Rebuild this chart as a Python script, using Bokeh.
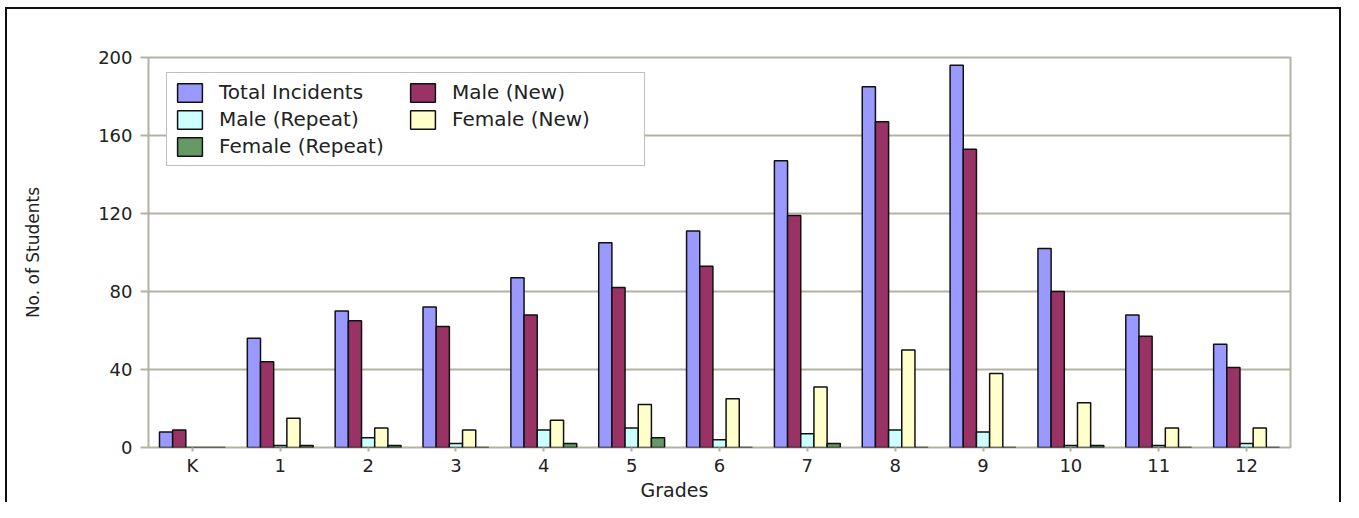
from bokeh.plotting import figure
from bokeh.models import (FactorRange, Range1d, FixedTicker, Legend, LegendItem,
                          ColumnDataSource, Title)
from bokeh.transform import dodge
from bokeh.embed import file_html
from bokeh.resources import INLINE

grades = ["K", "1", "2", "3", "4", "5", "6", "7", "8", "9", "10", "11", "12"]
total_incidents = [8, 56, 70, 72, 87, 105, 111, 147, 185, 196, 102, 68, 53]
male_new = [9, 44, 65, 62, 68, 82, 93, 119, 167, 153, 80, 57, 41]
male_repeat = [0, 1, 5, 2, 9, 10, 4, 7, 9, 8, 1, 1, 2]
female_new = [0, 15, 10, 9, 14, 22, 25, 31, 50, 38, 23, 10, 10]
female_repeat = [0, 1, 1, 0, 2, 5, 0, 2, 0, 0, 1, 0, 0]
y_ticks = [0, 40, 80, 120, 160, 200]

series_names = ["Total Incidents", "Male (New)", "Male (Repeat)", "Female (New)", "Female (Repeat)"]
series_cols = ["total", "male_new", "male_repeat", "female_new", "female_repeat"]
series_colors = ["#9999FF", "#993366", "#CCFFFF", "#FFFFCC", "#669966"]
offsets = [-0.3, -0.15, 0.0, 0.15, 0.3]

src = ColumnDataSource(dict(grade=grades, total=total_incidents, male_new=male_new,
                            male_repeat=male_repeat, female_new=female_new,
                            female_repeat=female_repeat))

TAN = "#b3b1a3"
TXT = "#222222"
FONT = "DejaVu Sans"

p = figure(x_range=FactorRange(*grades), y_range=Range1d(0, 200),
           width=1343, height=502, output_backend="svg", toolbar_location=None,
           min_border_left=148, min_border_right=53, min_border_top=57, min_border_bottom=55)

# outer frame lines of the chart (left, top, right) drawn behind a transparent canvas
p.border_fill_color = None
p.styles = {
    "background": ("linear-gradient(#111,#111) 5px 7px / 2px 600px no-repeat, "
                   "linear-gradient(#111,#111) 5px 7px / 1336px 2px no-repeat, "
                   "linear-gradient(#111,#111) 1339px 7px / 2px 600px no-repeat, "
                   "#ffffff")
}

renderers = []
for col, color, off in zip(series_cols, series_colors, offsets):
    r = p.vbar(x=dodge("grade", off, range=p.x_range), top=col, bottom=0, width=0.15,
               source=src, fill_color=color, line_color="#111111", line_width=1.5)
    renderers.append(r)

p.background_fill_color = "white"
p.outline_line_color = TAN
p.outline_line_width = 2
p.xgrid.grid_line_color = None
p.ygrid.grid_line_color = TAN
p.ygrid.grid_line_width = 2

p.yaxis.ticker = FixedTicker(ticks=y_ticks)
for ax in (p.xaxis[0], p.yaxis[0]):
    ax.axis_line_color = None
    ax.major_tick_line_color = TAN
    ax.major_tick_line_width = 2
    ax.major_tick_in = 0
    ax.minor_tick_line_color = None
    ax.major_label_text_font = FONT
    ax.major_label_text_font_size = "18px"
    ax.major_label_text_color = TXT
p.yaxis.major_tick_out = 8
p.yaxis.major_label_standoff = 8
p.xaxis.major_tick_out = 4
p.xaxis.major_label_standoff = 3

p.yaxis.axis_label = "No. of Students"
p.yaxis.axis_label_standoff = 52
p.yaxis.axis_label_text_font = FONT
p.yaxis.axis_label_text_font_size = "17px"
p.yaxis.axis_label_text_font_style = "normal"
p.yaxis.axis_label_text_color = TXT

p.add_layout(Title(text="Grades", align="left", offset=492, standoff=0,
                   vertical_align="top", text_font=FONT, text_font_size="19px",
                   text_font_style="normal", text_color=TXT), "below")

items = [LegendItem(label=series_names[i], renderers=[renderers[i]]) for i in range(5)]
legend = Legend(items=items, location=(18, 281), orientation="horizontal", ncols=2,
                glyph_width=31, glyph_height=23, label_standoff=14, spacing=3,
                label_width=185, padding=7, margin=0, label_text_font=FONT,
                label_text_font_size="20px", label_text_color=TXT,
                border_line_color="#808080", border_line_width=1.5,
                background_fill_color="white", background_fill_alpha=1.0)
p.add_layout(legend, "center")

open("out.html", "w").write(file_html(p, INLINE))
